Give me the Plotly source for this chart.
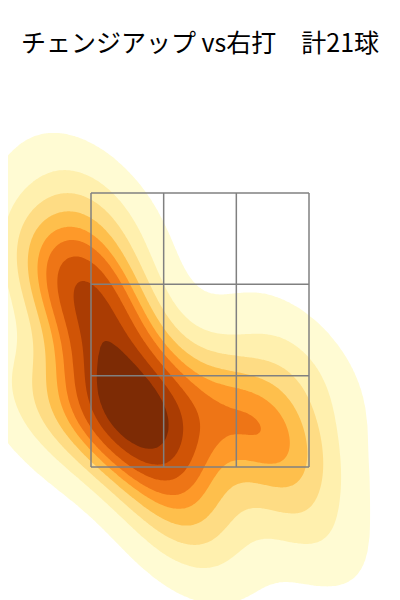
import numpy as np
import plotly.graph_objects as go

title_text = "チェンジアップ vs右打　計21球"

# estimated pitch locations (plate x, plate z in ft)
pitch_x = [-0.60, -0.45, -0.55, -0.70, -0.40, -0.50,
           -0.80, -0.85, -0.90, -0.75, -1.00, -0.70,
           -0.10, 0.20, 0.50, 0.60, -0.05,
           0.70, -1.15, -0.20, 0.70]
pitch_y = [1.95, 1.85, 2.10, 1.80, 2.05, 1.70,
           2.60, 2.85, 3.10, 3.40, 2.70, 2.75,
           1.90, 1.95, 1.85, 1.70, 1.30,
           2.25, 1.90, 1.05, 1.15]

zone_x = [-0.8, -0.8 + 1.6 / 3, 0.8 - 1.6 / 3, 0.8]
zone_y = [1.5, 1.5 + 2.0 / 3, 3.5 - 2.0 / 3, 3.5]

band_colors = ["#fffbd3", "#fff0ae", "#fedc84", "#febf4c", "#fe9929",
               "#ee7516", "#d05406", "#aa3c03", "#7d2b05"]

# Gaussian KDE (Scott's rule, full covariance)
pts = np.vstack([pitch_x, pitch_y])
n = pts.shape[1]
factor = n ** (-1.0 / 6.0)
cov = np.cov(pts) * factor ** 2
inv = np.linalg.inv(cov)
gx = np.linspace(-2.8, 2.8, 361)
gy = np.linspace(-1.0, 6.0, 451)
X, Y = np.meshgrid(gx, gy)
dx = X[..., None] - pts[0]
dy = Y[..., None] - pts[1]
q = inv[0, 0] * dx * dx + 2 * inv[0, 1] * dx * dy + inv[1, 1] * dy * dy
dens = np.exp(-0.5 * q).sum(-1) / (n * 2 * np.pi * np.sqrt(np.linalg.det(cov)))

props = np.linspace(0.05, 1, 10)
sv = np.sort(dens.ravel())[::-1]
cum = np.cumsum(sv) / sv.sum()
idx = np.searchsorted(cum, 1 - props)
levels = np.take(sv, idx, mode="clip")

z = np.where(dens < levels[0], -1 + dens / levels[0],
             np.interp(dens, levels, np.arange(len(levels))))

nb = len(band_colors)
cs = [[0.0, "white"], [0.3 / nb, "white"]]
for j, c in enumerate(band_colors):
    lo = (j + 0.3) / nb
    hi = min((j + 1.3) / nb, 1.0)
    cs.append([lo, c])
    cs.append([hi, c])
cs[-1][0] = 1.0

fig = go.Figure()
fig.add_trace(go.Contour(
    x=gx, y=gy, z=z,
    contours=dict(start=0, end=nb - 1, size=1, coloring="fill", showlines=False),
    colorscale=cs, showscale=False, line=dict(width=0), hoverinfo="skip",
))

for xv in zone_x:
    fig.add_shape(type="line", x0=xv, x1=xv, y0=zone_y[0], y1=zone_y[-1],
                  line=dict(color="#808080", width=1.5), layer="above")
for yv in zone_y:
    fig.add_shape(type="line", x0=zone_x[0], x1=zone_x[-1], y0=yv, y1=yv,
                  line=dict(color="#808080", width=1.5), layer="above")

# layout mapping (page is drawn 8 px from the window's top-left corner)
px_per_x = 218 / 1.6
px_per_y = 274 / 2.0
zone_cx = 192
zone_top = 185
top_m = 72
x_lo = -zone_cx / px_per_x
x_hi = (400 - zone_cx) / px_per_x
ytop = 3.5 + (zone_top - top_m) / px_per_y
ybot = ytop - (600 - top_m) / px_per_y

fig.update_layout(
    width=400, height=600,
    margin=dict(l=0, r=0, t=top_m, b=0),
    paper_bgcolor="white", plot_bgcolor="white",
    title=dict(text=title_text, x=192 / 400, xanchor="center", y=1 - 35 / 600,
               yanchor="middle",
               font=dict(family="Noto Sans CJK JP", size=25, color="black")),
    xaxis=dict(range=[x_lo, x_hi], visible=False, showgrid=False, zeroline=False),
    yaxis=dict(range=[ybot, ytop], visible=False, showgrid=False, zeroline=False),
    showlegend=False,
)

fig.write_html("out.html")
